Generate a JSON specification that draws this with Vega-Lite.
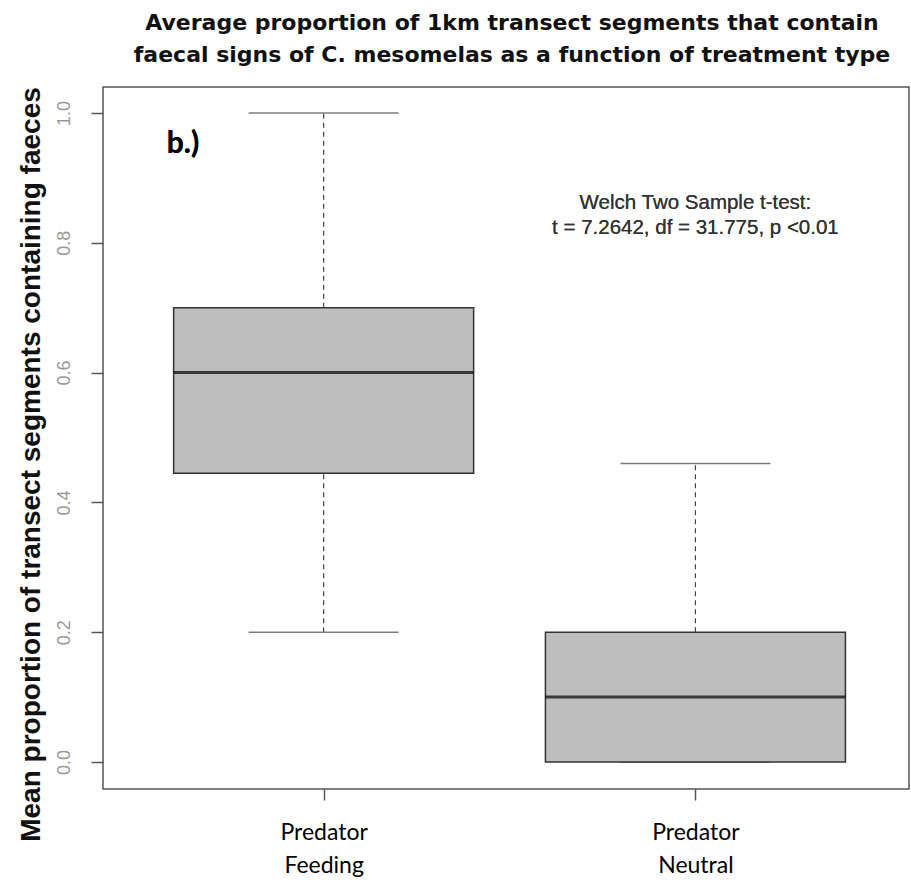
{
  "$schema": "https://vega.github.io/schema/vega-lite/v6.json",
  "autosize": {"type": "none"},
  "padding": {"left": 103, "top": 87, "right": 2, "bottom": 96},
  "width": 806,
  "height": 702,
  "background": "white",
  "title": {
    "text": ["Average proportion of 1km transect segments that contain", "faecal signs of C. mesomelas as a function of treatment type"],
    "font": "DejaVu Sans",
    "fontSize": 22,
    "fontWeight": "bold",
    "color": "#111",
    "anchor": "middle",
    "frame": "group",
    "dx": 6,
    "offset": 20,
    "lineHeight": 32
  },
  "config": {
    "view": {"stroke": "#555", "strokeWidth": 1.5},
    "axis": {"grid": false}
  },
  "data": {
    "values": [
      {"treatment": "Predator Feeding", "x": 1, "lower": 0.2, "q1": 0.445, "median": 0.6, "q3": 0.7, "upper": 1.0},
      {"treatment": "Predator Neutral", "x": 2, "lower": 0.0, "q1": 0.0, "median": 0.1, "q3": 0.2, "upper": 0.46}
    ]
  },
  "encoding": {
    "x": {
      "field": "x", "type": "quantitative",
      "scale": {"domain": [0.42, 2.561], "nice": false, "zero": false},
      "axis": {
        "values": [1, 2], "title": null, "domain": false,
        "labelExpr": "datum.value == 1 ? ['Predator', 'Feeding'] : ['Predator', 'Neutral']",
        "labelFont": "Lato", "labelFontSize": 23, "labelColor": "black", "labelLineHeight": 33,
        "labelPadding": 21, "tickSize": 11, "tickColor": "#555", "tickWidth": 1.5
      }
    }
  },
  "layer": [
    {
      "mark": {"type": "rule", "strokeDash": [5, 4], "color": "#444", "strokeWidth": 1.2},
      "encoding": {
        "y": {
          "field": "lower", "type": "quantitative",
          "scale": {"domain": [-0.0416, 1.04], "nice": false, "zero": false},
          "axis": {
            "values": [0, 0.2, 0.4, 0.6, 0.8, 1.0], "format": ".1f", "domain": false,
            "labelAngle": -90, "labelColor": "#999", "labelFont": "Liberation Sans", "labelFontSize": 18,
            "labelPadding": 18, "tickSize": 12, "tickColor": "#555", "tickWidth": 1.5,
            "title": "Mean proportion of transect segments containing faeces",
            "titleFont": "Liberation Sans", "titleFontSize": 28, "titleFontWeight": "bold", "titleColor": "#111",
            "titlePadding": 10, "titleY": 377
          }
        },
        "y2": {"field": "q1"}
      }
    },
    {
      "mark": {"type": "rule", "strokeDash": [5, 4], "color": "#444", "strokeWidth": 1.2},
      "encoding": {
        "y": {"field": "q3", "type": "quantitative"},
        "y2": {"field": "upper"}
      }
    },
    {
      "mark": {"type": "tick", "orient": "horizontal", "size": 150, "thickness": 1.5, "color": "#444"},
      "encoding": {"y": {"field": "lower", "type": "quantitative"}}
    },
    {
      "mark": {"type": "tick", "orient": "horizontal", "size": 150, "thickness": 1.5, "color": "#444"},
      "encoding": {"y": {"field": "upper", "type": "quantitative"}}
    },
    {
      "mark": {"type": "bar", "size": 300, "fill": "#bebebe", "stroke": "#333", "strokeWidth": 1.5},
      "encoding": {
        "y": {"field": "q1", "type": "quantitative"},
        "y2": {"field": "q3"}
      }
    },
    {
      "mark": {"type": "tick", "orient": "horizontal", "size": 300, "thickness": 3, "color": "black"},
      "encoding": {"y": {"field": "median", "type": "quantitative"}}
    },
    {
      "mark": {"type": "text", "text": "b.)", "font": "Lato", "fontSize": 30, "fontWeight": "bold", "align": "left", "baseline": "alphabetic", "color": "black"},
      "encoding": {"x": {"datum": 0.578}, "y": {"datum": 0.938}}
    },
    {
      "mark": {"type": "text", "text": ["Welch Two Sample t-test:", "t = 7.2642, df = 31.775, p <0.01"], "font": "Liberation Sans", "fontSize": 20.5, "lineHeight": 25, "align": "center", "baseline": "middle", "color": "#333"},
      "encoding": {"x": {"datum": 2.0}, "y": {"datum": 0.861}}
    }
  ]
}
